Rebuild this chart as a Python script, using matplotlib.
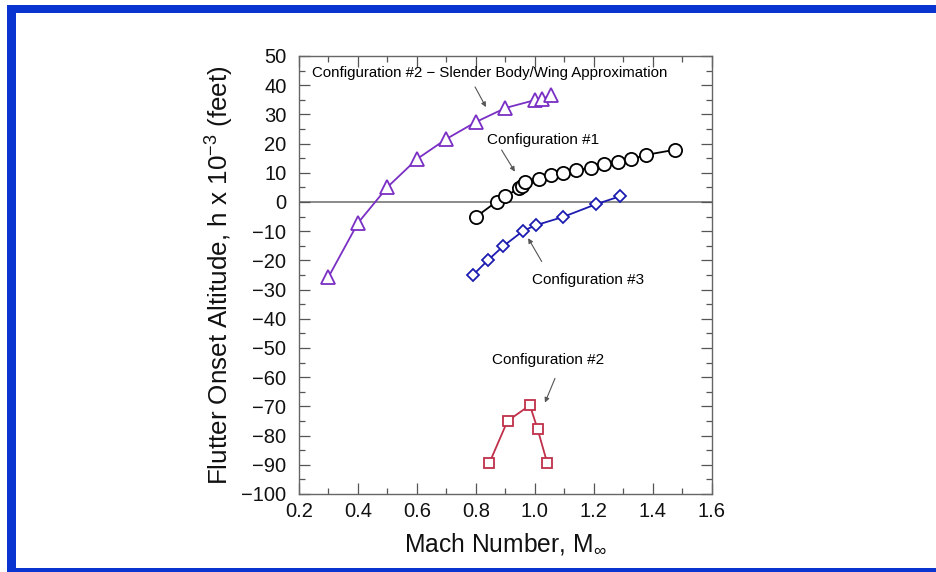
import matplotlib
matplotlib.use("Agg")
import matplotlib.pyplot as plt
from matplotlib.patches import Rectangle
from matplotlib.ticker import MultipleLocator

# ---- data ----
slender_mach = [0.30, 0.40, 0.50, 0.60, 0.70, 0.80, 0.90, 1.00, 1.025, 1.055]
slender_alt = [-25.7, -7.2, 5.1, 14.7, 21.6, 27.4, 32.2, 34.9, 35.3, 36.6]

cfg1_mach = [0.80, 0.87, 0.90, 0.945, 0.955, 0.965, 1.015, 1.055, 1.095, 1.14,
             1.19, 1.235, 1.28, 1.325, 1.375, 1.475]
cfg1_alt = [-5.1, 0.1, 1.9, 4.7, 5.5, 7.0, 7.8, 9.2, 10.0, 10.9,
            11.7, 12.9, 13.8, 14.6, 16.1, 17.9]

cfg3_mach = [0.79, 0.842, 0.893, 0.96, 1.002, 1.096, 1.206, 1.29]
cfg3_alt = [-25.0, -19.8, -15.1, -9.9, -8.0, -5.1, -0.8, 2.0]

cfg2_mach = [0.845, 0.907, 0.983, 1.009, 1.042]
cfg2_alt = [-89.5, -75.0, -69.6, -77.8, -89.5]

x_ticks = [0.2, 0.4, 0.6, 0.8, 1.0, 1.2, 1.4, 1.6]
y_ticks = list(range(-100, 51, 10))

labels = ["Configuration #2 \u2212 Slender Body/Wing Approximation",
          "Configuration #1", "Configuration #3", "Configuration #2"]

plt.rcParams['font.family'] = ['Liberation Sans', 'DejaVu Sans']
plt.rcParams['mathtext.fontset'] = 'custom'
plt.rcParams['mathtext.rm'] = 'Liberation Sans'
plt.rcParams['mathtext.it'] = 'Liberation Sans'

fig = plt.figure(figsize=(9.36, 5.72), dpi=100)
fig.patch.set_facecolor('white')

# blue frame
blue = '#0a34cf'
fig.patches.append(Rectangle((0.0078, 0.9767), 0.9922, 0.0146, transform=fig.transFigure,
                             facecolor=blue, edgecolor='none'))
fig.patches.append(Rectangle((0.0078, 0.0), 0.0093, 0.99, transform=fig.transFigure,
                             facecolor=blue, edgecolor='none'))
fig.patches.append(Rectangle((0.0078, 0.0), 0.9922, 0.007, transform=fig.transFigure,
                             facecolor=blue, edgecolor='none'))

ax = fig.add_axes([0.3194, 0.1364, 0.4412, 0.7657])

ax.axhline(0, color='#8a8a8a', lw=1.4, zorder=1)

ax.plot(slender_mach, slender_alt, color='#7a2fc4', lw=1.3, marker='^', ms=9.5,
        mfc='white', mec='#7a2fc4', mew=1.3, zorder=3)
ax.plot(cfg1_mach, cfg1_alt, color='black', lw=1.3, marker='o', ms=9.5,
        mfc='white', mec='black', mew=1.3, zorder=3)
ax.plot(cfg3_mach, cfg3_alt, color='#1c1cb0', lw=1.3, marker='D', ms=6,
        mfc='white', mec='#1c1cb0', mew=1.3, zorder=3)
ax.plot(cfg2_mach, cfg2_alt, color='#c0304a', lw=1.3, marker='s', ms=7.5,
        mfc='white', mec='#c0304a', mew=1.3, zorder=3)

ax.set_xlim(0.2, 1.6)
ax.set_ylim(-100, 50)
ax.set_xticks(x_ticks)
ax.set_xticklabels([f"{v:.1f}" for v in x_ticks])
ax.set_yticks(y_ticks)
ax.xaxis.set_minor_locator(MultipleLocator(0.1))
ax.yaxis.set_minor_locator(MultipleLocator(5))
ax.tick_params(which='both', direction='in', top=True, right=True, colors='#555555',
               labelcolor='#111111', width=0.9)
ax.tick_params(which='major', length=8, labelsize=14.5)
ax.tick_params(axis='y', which='major', pad=9)
ax.tick_params(axis='x', which='major', pad=6)
ax.tick_params(which='minor', length=4)
for s in ax.spines.values():
    s.set_color('#666666')
    s.set_linewidth(1.0)

ax.set_xlabel(r"Mach Number, M$_{\infty}$", fontsize=17.7, labelpad=7, color='#111111')
ax.set_ylabel(r"Flutter Onset Altitude, h x 10$^{-3}$ (feet)", fontsize=18.7,
              labelpad=4, color='#111111')

arrow_kw = dict(arrowstyle='-|>', color='#555555', lw=0.8, mutation_scale=7,
                shrinkA=0, shrinkB=0)
tfs = 11
ax.text(0.243, 44.1, labels[0], fontsize=10.8, ha='left', va='center')
ax.annotate('', xy=(0.834, 32.5), xytext=(0.797, 39.4), arrowprops=arrow_kw)
ax.text(0.836, 21.2, labels[1], fontsize=tfs, ha='left', va='center')
ax.annotate('', xy=(0.932, 10.4), xytext=(0.887, 17.8), arrowprops=arrow_kw)
ax.text(0.989, -26.7, labels[2], fontsize=tfs, ha='left', va='center')
ax.annotate('', xy=(0.977, -12.4), xytext=(1.023, -20.4), arrowprops=arrow_kw)
ax.text(0.853, -54.1, labels[3], fontsize=tfs, ha='left', va='center')
ax.annotate('', xy=(1.034, -68.7), xytext=(1.068, -60.4), arrowprops=arrow_kw)

fig.savefig('out.png', dpi=100)
